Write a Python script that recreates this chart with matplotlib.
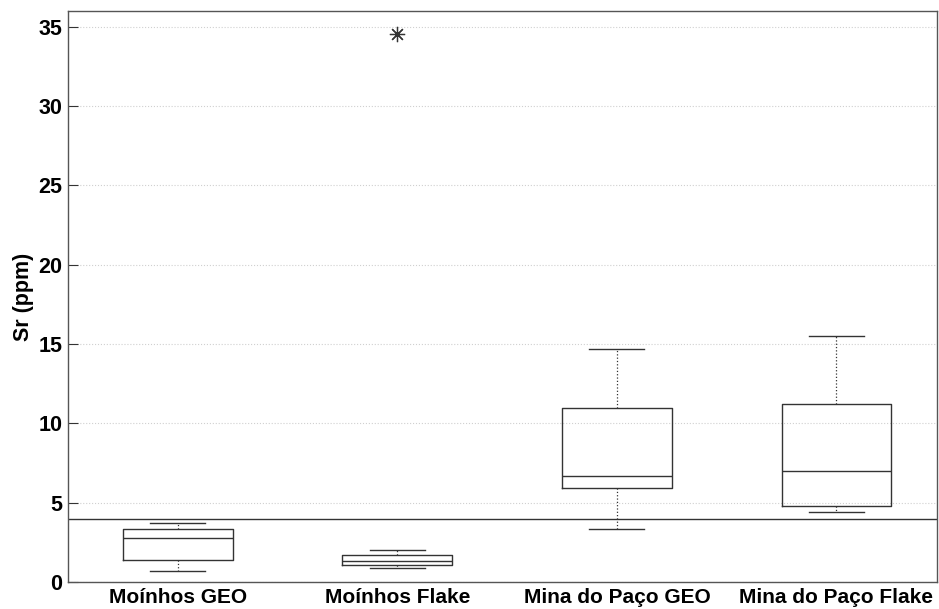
import matplotlib.pyplot as plt

plt.rcParams['font.family'] = ['Liberation Sans', 'DejaVu Sans']

# Valeurs (Sr en ppm)
groupes = ['Moínhos GEO', 'Moínhos Flake', 'Mina do Paço GEO', 'Mina do Paço Flake']
whisker_bas = [0.69, 0.86, 3.34, 4.41]
q1 = [1.37, 1.07, 5.95, 4.79]
mediane = [2.79, 1.32, 6.70, 6.98]
q3 = [3.34, 1.70, 10.99, 11.22]
whisker_haut = [3.74, 2.04, 14.69, 15.53]
aberrants = [[], [34.57], [], []]
seuil = 4.0

stats = []
for i, nom in enumerate(groupes):
    stats.append({
        'label': nom,
        'whislo': whisker_bas[i], 'q1': q1[i], 'med': mediane[i],
        'q3': q3[i], 'whishi': whisker_haut[i], 'fliers': aberrants[i],
    })

fig = plt.figure(figsize=(9.39, 6.09), dpi=100)
ax = fig.add_axes([0.0724, 0.0443, 0.926, 0.9376])

couleur = '#333333'
ax.bxp(stats, positions=[1, 2, 3, 4], widths=0.5, showfliers=True,
       boxprops=dict(color=couleur, linewidth=1.0),
       medianprops=dict(color=couleur, linewidth=1.0),
       whiskerprops=dict(color=couleur, linewidth=0.9, linestyle=':'),
       capprops=dict(color=couleur, linewidth=1.0),
       flierprops=dict(marker=(8, 2, 0), markersize=11, markeredgecolor=couleur,
                       markeredgewidth=0.9, linestyle='none'),
       capwidths=0.25)

ax.axhline(seuil, color=couleur, linewidth=1.0, zorder=1)

ax.set_xlim(0.5, 4.46)
ax.set_ylim(0, 36)
ax.set_yticks([0, 5, 10, 15, 20, 25, 30, 35])
ax.yaxis.grid(True, linestyle=':', color='#d0d0d0', linewidth=0.8)
ax.set_axisbelow(True)

ax.set_ylabel('Sr (ppm)', fontsize=15.5, fontweight='bold', labelpad=3)
ax.tick_params(axis='y', direction='in', length=7, labelsize=15.5, color=couleur, pad=4)
ax.tick_params(axis='x', length=0, labelsize=15, pad=4)
for lab in ax.get_yticklabels() + ax.get_xticklabels():
    lab.set_fontweight('bold')

for sp in ax.spines.values():
    sp.set_color('#555555')
    sp.set_linewidth(1.0)

fig.savefig('out.png', dpi=100)
